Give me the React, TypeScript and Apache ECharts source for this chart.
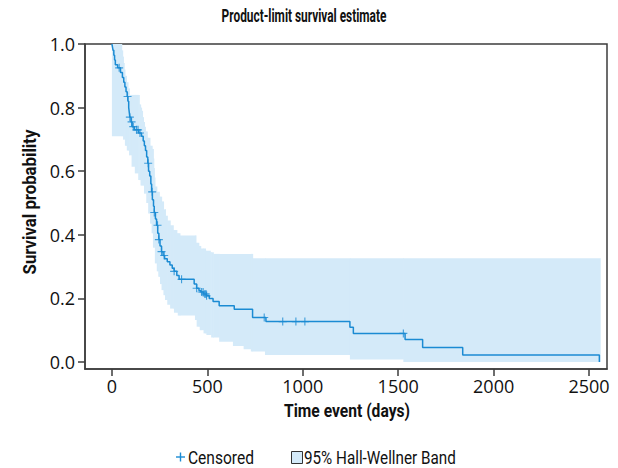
import React, { useEffect, useRef } from "react";
import * as echarts from "echarts";

const kmTimes = [0, 3, 6, 10, 14, 18, 30, 45, 55, 62, 68, 74, 80, 84, 88, 91, 94, 100, 106, 118, 140, 155, 164, 170, 176, 182, 188, 192, 198, 204, 208, 212, 218, 222, 228, 234, 240, 246, 252, 260, 268, 276, 290, 304, 316, 326, 340, 352, 431, 444, 456, 466, 480, 495, 510, 530, 562, 641, 737, 807, 1247, 1265, 1536, 1628, 1838, 2554];
const kmSurvival = [1.0, 0.99, 0.98, 0.965, 0.95, 0.935, 0.925, 0.91, 0.895, 0.88, 0.865, 0.85, 0.835, 0.82, 0.8, 0.785, 0.77, 0.755, 0.74, 0.73, 0.72, 0.71, 0.695, 0.68, 0.665, 0.645, 0.625, 0.6, 0.585, 0.56, 0.535, 0.51, 0.49, 0.47, 0.45, 0.43, 0.405, 0.385, 0.365, 0.347, 0.335, 0.325, 0.315, 0.305, 0.295, 0.285, 0.272, 0.26, 0.245, 0.232, 0.225, 0.22, 0.214, 0.208, 0.2, 0.19, 0.177, 0.166, 0.14, 0.127, 0.109, 0.09, 0.071, 0.046, 0.022, 0.0];

const censorTimes = [38, 82, 94, 103, 112, 129, 137, 147, 190, 211, 222, 239, 246, 260, 274, 326, 365, 444, 470, 478, 487, 493, 496, 798, 895, 964, 1011, 1527];

const upperTimes = [0, 51, 56, 60, 64, 68, 76, 84, 91, 143, 150, 155, 160, 165, 170, 175, 185, 199, 210, 216, 219, 222, 225, 235, 248, 260, 270, 280, 290, 305, 321, 340, 356, 440, 455, 465, 490, 515, 531, 737, 2558];
const upperValues = [1.0, 0.98, 0.96, 0.94, 0.92, 0.9, 0.88, 0.86, 0.84, 0.81, 0.8, 0.79, 0.77, 0.755, 0.74, 0.725, 0.705, 0.68, 0.67, 0.64, 0.61, 0.58, 0.552, 0.535, 0.52, 0.505, 0.48, 0.46, 0.445, 0.43, 0.415, 0.405, 0.398, 0.375, 0.365, 0.357, 0.35, 0.345, 0.34, 0.326, 0.326];

const lowerTimes = [0, 59, 68, 78, 90, 103, 120, 138, 150, 168, 180, 190, 200, 208, 215, 225, 235, 243, 252, 260, 270, 278, 290, 305, 325, 345, 435, 444, 460, 480, 495, 520, 562, 634, 690, 728, 802, 1247, 1527, 2558];
const lowerValues = [0.71, 0.7, 0.68, 0.665, 0.65, 0.614, 0.593, 0.572, 0.555, 0.53, 0.5, 0.467, 0.435, 0.405, 0.36, 0.31, 0.285, 0.268, 0.245, 0.226, 0.21, 0.195, 0.18, 0.168, 0.155, 0.146, 0.132, 0.111, 0.1, 0.09, 0.085, 0.077, 0.064, 0.05, 0.04, 0.033, 0.022, 0.008, 0.0, 0.0];

const xTicks = [0, 500, 1000, 1500, 2000, 2500];
const yTicks = [0, 0.2, 0.4, 0.6, 0.8, 1.0];

const TITLE = "Product-limit survival estimate";
const X_NAME = "Time event (days)";
const Y_NAME = "Survival probability";
const LEGEND_CENSORED = "Censored";
const LEGEND_BAND = "95% Hall-Wellner Band";

const LINE_BLUE = "#1b8bd3";
const BAND_BLUE = "#d4eaf9";
const FRAME = "#3c3c3c";
const TEXT = "#111";
const LABEL_FONT = "'Open Sans', 'Noto Sans', sans-serif";
const NAME_FONT = "Roboto, 'Noto Sans', sans-serif";
const CROSS = "path://M4.3,0H5.7V4.3H10V5.7H5.7V10H4.3V5.7H0V4.3H4.3Z";

function stepAt(times: number[], vals: number[], t: number): number {
  let v = vals[0];
  for (let i = 0; i < times.length; i++) {
    if (times[i] <= t) v = vals[i];
    else break;
  }
  return v;
}

function fitScale(text: string, font: string, target: number): number {
  const c = document.createElement("canvas").getContext("2d");
  if (!c) return 1;
  c.font = font;
  const w = c.measureText(text).width;
  return w > 0 ? target / w : 1;
}

export default function App() {
  const ref = useRef<HTMLDivElement>(null);
  useEffect(() => {
    if (!ref.current) return;
    const chart = echarts.init(ref.current, undefined, { renderer: "svg" });

    const bandTimes = Array.from(new Set([...upperTimes, ...lowerTimes])).sort((a, b) => a - b);
    const bandCells = bandTimes.slice(0, -1).map((t, i) => [
      t,
      bandTimes[i + 1],
      stepAt(lowerTimes, lowerValues, t),
      stepAt(upperTimes, upperValues, t),
    ]);
    const km = kmTimes.map((t, i) => [t, kmSurvival[i]]);
    const censored = censorTimes.map((t) => [t, stepAt(kmTimes, kmSurvival, t)]);

    const titleFont = `bold 19px ${NAME_FONT}`;
    const nameFont = `bold 18px ${NAME_FONT}`;
    const legFont = `18px ${NAME_FONT}`;

    const mkText = (
      text: string,
      x: number,
      y: number,
      font: string,
      target: number,
      align: string,
      rotation = 0
    ) => ({
      type: "text",
      x,
      y,
      rotation,
      scaleX: fitScale(text, font, target),
      silent: true,
      style: { text, font, fill: TEXT, align, verticalAlign: "middle" },
    });

    chart.setOption({
      animation: false,
      grid: {
        left: 85,
        right: 11,
        top: 44,
        bottom: 99,
        show: true,
        borderColor: FRAME,
        borderWidth: 1.5,
        backgroundColor: "transparent",
      },
      xAxis: {
        type: "value",
        min: -141,
        max: 2594,
        axisLine: { show: true, onZero: false, lineStyle: { color: FRAME, width: 1.5 } },
        splitLine: { show: false },
        axisTick: {
          show: true,
          length: 7,
          customValues: xTicks,
          lineStyle: { color: FRAME, width: 1.5 },
        },
        axisLabel: {
          customValues: xTicks,
          margin: 8,
          fontFamily: LABEL_FONT,
          fontSize: 18,
          color: TEXT,
          formatter: (v: number) => String(v),
        },
      },
      yAxis: {
        type: "value",
        min: -0.022,
        max: 1.0,
        axisLine: { show: true, onZero: false, lineStyle: { color: FRAME, width: 1.5 } },
        splitLine: { show: false },
        axisTick: {
          show: true,
          length: 7,
          customValues: yTicks,
          lineStyle: { color: FRAME, width: 1.5 },
        },
        axisLabel: {
          customValues: yTicks,
          margin: 10,
          fontFamily: LABEL_FONT,
          fontSize: 18,
          color: TEXT,
          formatter: (v: number) => v.toFixed(1),
        },
      },
      graphic: [
        mkText(TITLE, 304, 15, titleFont, 165, "center"),
        mkText(X_NAME, 347, 411, nameFont, 126, "center"),
        mkText(Y_NAME, 30, 202, nameFont, 145, "center", Math.PI / 2),
        {
          type: "group",
          silent: true,
          children: [
            { type: "line", shape: { x1: 176, y1: 457, x2: 185, y2: 457 }, style: { stroke: LINE_BLUE, lineWidth: 1.4 } },
            { type: "line", shape: { x1: 180.5, y1: 452.5, x2: 180.5, y2: 461.5 }, style: { stroke: LINE_BLUE, lineWidth: 1.4 } },
            { type: "rect", shape: { x: 291.5, y: 451.5, width: 11, height: 12 }, style: { fill: BAND_BLUE, stroke: "#333", lineWidth: 1 } },
          ],
        },
        mkText(LEGEND_CENSORED, 188, 458, legFont, 66, "left"),
        mkText(LEGEND_BAND, 304, 458, legFont, 152, "left"),
      ],
      series: [
        {
          name: LEGEND_BAND,
          type: "custom",
          silent: true,
          clip: true,
          encode: { x: [0, 1], y: [2, 3] },
          data: bandCells,
          z: 1,
          renderItem: (params: any, api: any) => {
            const t0 = api.value(0);
            const t1 = api.value(1);
            const lo = api.value(2);
            const hi = api.value(3);
            const a = api.coord([t0, hi]);
            const b = api.coord([t1, lo]);
            return {
              type: "rect",
              shape: { x: a[0], y: a[1], width: b[0] - a[0] + 0.6, height: b[1] - a[1] },
              style: { fill: BAND_BLUE },
            };
          },
        },
        {
          name: "Survival",
          type: "line",
          step: "end",
          symbol: "none",
          silent: true,
          lineStyle: { color: LINE_BLUE, width: 1.5 },
          data: km,
          z: 3,
        },
        {
          name: LEGEND_CENSORED,
          type: "scatter",
          symbol: CROSS,
          symbolSize: 8,
          silent: true,
          itemStyle: { color: LINE_BLUE },
          data: censored,
          z: 4,
        },
      ],
    });
    return () => chart.dispose();
  }, []);

  return (
    <div
      ref={ref}
      style={{ position: "fixed", left: 0, top: 0, width: 618, height: 468, background: "#fff" }}
    />
  );
}
